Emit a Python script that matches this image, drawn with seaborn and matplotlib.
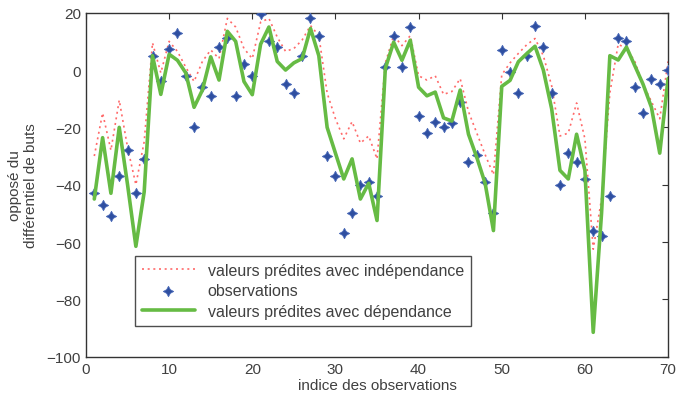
import numpy as np
import matplotlib
matplotlib.use("Agg")
import matplotlib.pyplot as plt
import seaborn as sns

# -------------------------------
# DATA
# -------------------------------
indices = list(range(1, 71))

observations = [
    -43, -47, -51, -37, -28, -43, -31, 5, -4, 7.5,
    13, -2, -20, -6, -9, 8, 11, -9, 2, -2,
    19.5, 10, 8, -5, -8, 5, 18, 12, -30, -37,
    -57, -50, -40, -39, -44, 1, 12, 1, 15, -16,
    -22, -18, -20, -18.5, -11, -32, -29.5, -39, -50, 7,
    -0.6, -8, 5, 15.3, 8, -8, -40, -29, -32, -38,
    -56, -58, -44, 11, 10, -6, -15, -3, -5, 0,
]

pred_dependance = [
    -45, -23.6, -43, -20, -40, -61.5, -42.5, 5, -8.5, 5.5,
    3.4, -1, -13, -7, 4.6, -3.5, 13.5, 10, -4, -8.6,
    9, 15, 3, 0, 2.5, 4, 14.5, 5, -20, -29,
    -38, -31, -45, -39.5, -52.5, 0.6, 9.7, 3.4, 10.4, -6,
    -9, -7.7, -16.7, -17.8, -7, -22.4, -30.5, -39.5, -56, -5.7,
    -3.6, 2.9, 5.7, 8.3, 0, -13.5, -35, -38, -22.4, -35,
    -91.5, -50, 5, 3.5, 8, 1.5, -5, -13, -29, -3,
]

pred_independance = [
    -30, -15, -28, -10.5, -27, -40, -25, 9.5, -1, 10,
    6.5, 1, -4, 3, 7, 4, 18, 15, 7.5, 4,
    16.7, 18, 11.5, 6.5, 7.5, 10.5, 15.5, 12, -8, -17,
    -24, -18, -25.5, -23, -31, 2.5, 12, 8.5, 12, -2,
    -3.5, -2, -8.5, -7.5, -3, -14.5, -22, -29.5, -36.5, -1.7,
    2.5, 5.8, 8.8, 11, 5, -5.5, -23, -22, -11.5, -24,
    -62.5, -45, -8, 9, 7.5, 3, -5, -11, -17, 3,
]

x_ticks = [0, 10, 20, 30, 40, 50, 60, 70]
y_ticks = [-100, -80, -60, -40, -20, 0, 20]

# -------------------------------
# STYLE
# -------------------------------
sns.set_style("white")
plt.rcParams["font.family"] = ["Liberation Sans", "DejaVu Sans"]

fig = plt.figure(figsize=(6.84, 4.10), dpi=100)
ax = fig.add_axes([0.1257, 0.1276, 0.851, 0.839])

# -------------------------------
# PLOT
# -------------------------------
sns.lineplot(x=indices, y=pred_independance, ax=ax, color="#ff6a6a",
             linestyle=(0, (1.2, 2.2)), linewidth=1.2,
             label="valeurs prédites avec indépendance")
sns.scatterplot(x=indices, y=observations, ax=ax, marker=(4, 1, 0),
                s=55, color="#2f4fa0", edgecolor="#4a6ab8", linewidth=0.6,
                zorder=3, label="observations")
sns.lineplot(x=indices, y=pred_dependance, ax=ax, color="#66bb44",
             linewidth=2.6, zorder=4,
             label="valeurs prédites avec dépendance")

ax.set_xlim(0, 70)
ax.set_ylim(-100, 20)
ax.set_xticks(x_ticks)
ax.set_yticks(y_ticks)
ax.tick_params(direction="in", length=4, width=0.8, colors="#333333",
               labelsize=11, top=True, right=True, labelcolor="#404040")
ax.set_yticklabels([str(v).replace("-", "\u2212") for v in y_ticks])

for sp in ax.spines.values():
    sp.set_color("#333333")
    sp.set_linewidth(1.0)

ax.set_xlabel("indice des observations", fontsize=11, color="#404040", labelpad=2)
ax.set_ylabel("opposé du\ndifférentiel de buts", fontsize=11, color="#404040", labelpad=6)

leg = ax.legend(loc="lower left", bbox_to_anchor=(0.084, 0.089),
                borderaxespad=0, fontsize=11.5, frameon=True, fancybox=False,
                handlelength=3.3, handletextpad=0.8, borderpad=0.45,
                labelspacing=0.35)
leg.get_frame().set_edgecolor("#222222")
leg.get_frame().set_linewidth(1.0)
for t in leg.get_texts():
    t.set_color("#404040")

fig.savefig("out.png", dpi=100)
